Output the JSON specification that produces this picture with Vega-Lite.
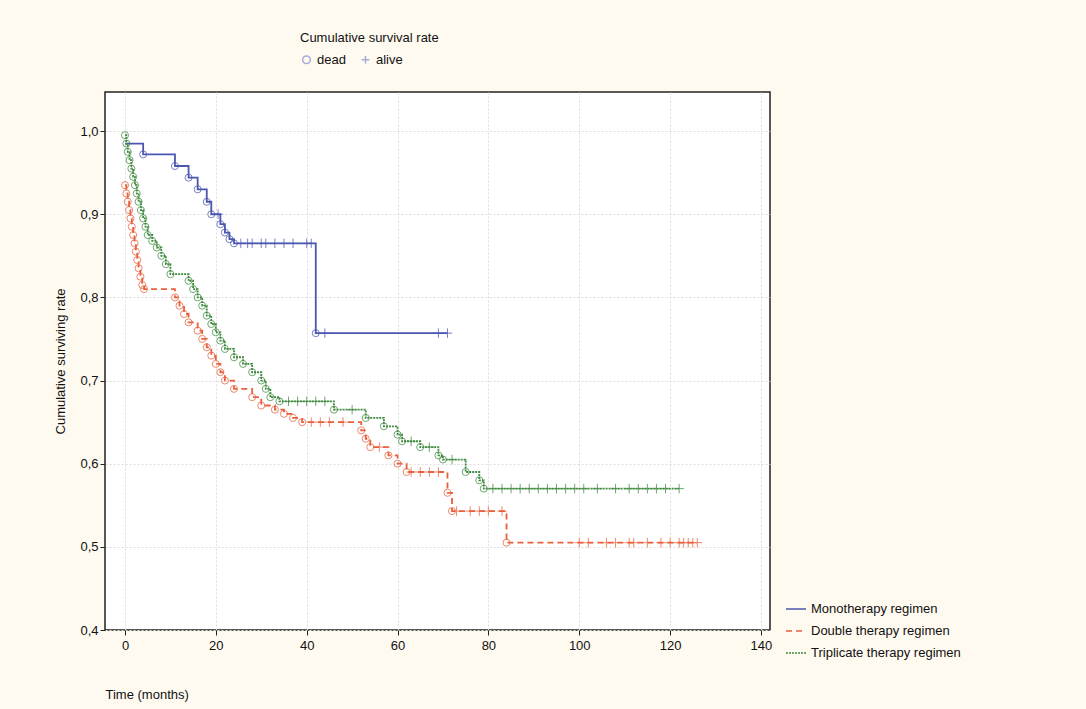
{
  "$schema": "https://vega.github.io/schema/vega-lite/v6.json",
  "width": 665,
  "height": 538,
  "autosize": "none",
  "padding": {"left": 105, "top": 92, "right": 316, "bottom": 79},
  "background": "#fffaf0",
  "config": {
    "font": "Liberation Sans",
    "view": {"fill": "white", "stroke": "#222", "strokeWidth": 1.5},
    "axis": {"labelFontSize": 13, "titleFontSize": 13, "titleFontWeight": "normal", "labelColor": "#111", "titleColor": "#111", "gridColor": "#ddd", "gridDash": [2, 2], "domain": false, "tickColor": "#222"}
  },
  "data": {
    "values": [
      {"g": "Monotherapy regimen", "t": 0, "s": 0.985, "e": "step"},
      {"g": "Monotherapy regimen", "t": 4, "s": 0.972, "e": "dead"},
      {"g": "Monotherapy regimen", "t": 11, "s": 0.958, "e": "dead"},
      {"g": "Monotherapy regimen", "t": 14, "s": 0.944, "e": "dead"},
      {"g": "Monotherapy regimen", "t": 16, "s": 0.93, "e": "dead"},
      {"g": "Monotherapy regimen", "t": 18, "s": 0.915, "e": "dead"},
      {"g": "Monotherapy regimen", "t": 19, "s": 0.9, "e": "dead"},
      {"g": "Monotherapy regimen", "t": 20.5, "s": 0.9, "e": "alive"},
      {"g": "Monotherapy regimen", "t": 21, "s": 0.888, "e": "dead"},
      {"g": "Monotherapy regimen", "t": 22, "s": 0.878, "e": "dead"},
      {"g": "Monotherapy regimen", "t": 23, "s": 0.87, "e": "dead"},
      {"g": "Monotherapy regimen", "t": 24, "s": 0.865, "e": "dead"},
      {"g": "Monotherapy regimen", "t": 25.5, "s": 0.865, "e": "alive"},
      {"g": "Monotherapy regimen", "t": 27, "s": 0.865, "e": "alive"},
      {"g": "Monotherapy regimen", "t": 28, "s": 0.865, "e": "alive"},
      {"g": "Monotherapy regimen", "t": 30, "s": 0.865, "e": "alive"},
      {"g": "Monotherapy regimen", "t": 31, "s": 0.865, "e": "alive"},
      {"g": "Monotherapy regimen", "t": 33, "s": 0.865, "e": "alive"},
      {"g": "Monotherapy regimen", "t": 35, "s": 0.865, "e": "alive"},
      {"g": "Monotherapy regimen", "t": 37, "s": 0.865, "e": "alive"},
      {"g": "Monotherapy regimen", "t": 40, "s": 0.865, "e": "alive"},
      {"g": "Monotherapy regimen", "t": 41, "s": 0.865, "e": "alive"},
      {"g": "Monotherapy regimen", "t": 42, "s": 0.757, "e": "dead"},
      {"g": "Monotherapy regimen", "t": 44, "s": 0.757, "e": "alive"},
      {"g": "Monotherapy regimen", "t": 69, "s": 0.757, "e": "alive"},
      {"g": "Monotherapy regimen", "t": 71, "s": 0.757, "e": "alive"},

      {"g": "Double therapy regimen", "t": 0, "s": 0.935, "e": "dead"},
      {"g": "Double therapy regimen", "t": 0.3, "s": 0.925, "e": "dead"},
      {"g": "Double therapy regimen", "t": 0.6, "s": 0.915, "e": "dead"},
      {"g": "Double therapy regimen", "t": 0.9, "s": 0.905, "e": "dead"},
      {"g": "Double therapy regimen", "t": 1.2, "s": 0.895, "e": "dead"},
      {"g": "Double therapy regimen", "t": 1.5, "s": 0.885, "e": "dead"},
      {"g": "Double therapy regimen", "t": 1.8, "s": 0.875, "e": "dead"},
      {"g": "Double therapy regimen", "t": 2.1, "s": 0.865, "e": "dead"},
      {"g": "Double therapy regimen", "t": 2.4, "s": 0.855, "e": "dead"},
      {"g": "Double therapy regimen", "t": 2.7, "s": 0.845, "e": "dead"},
      {"g": "Double therapy regimen", "t": 3, "s": 0.835, "e": "dead"},
      {"g": "Double therapy regimen", "t": 3.4, "s": 0.825, "e": "dead"},
      {"g": "Double therapy regimen", "t": 3.8, "s": 0.815, "e": "dead"},
      {"g": "Double therapy regimen", "t": 4.2, "s": 0.81, "e": "dead"},
      {"g": "Double therapy regimen", "t": 11, "s": 0.8, "e": "dead"},
      {"g": "Double therapy regimen", "t": 12, "s": 0.79, "e": "dead"},
      {"g": "Double therapy regimen", "t": 13, "s": 0.78, "e": "dead"},
      {"g": "Double therapy regimen", "t": 14, "s": 0.77, "e": "dead"},
      {"g": "Double therapy regimen", "t": 16, "s": 0.76, "e": "dead"},
      {"g": "Double therapy regimen", "t": 17, "s": 0.75, "e": "dead"},
      {"g": "Double therapy regimen", "t": 18, "s": 0.74, "e": "dead"},
      {"g": "Double therapy regimen", "t": 19, "s": 0.73, "e": "dead"},
      {"g": "Double therapy regimen", "t": 20, "s": 0.72, "e": "dead"},
      {"g": "Double therapy regimen", "t": 21, "s": 0.71, "e": "dead"},
      {"g": "Double therapy regimen", "t": 22, "s": 0.7, "e": "dead"},
      {"g": "Double therapy regimen", "t": 24, "s": 0.69, "e": "dead"},
      {"g": "Double therapy regimen", "t": 28, "s": 0.68, "e": "dead"},
      {"g": "Double therapy regimen", "t": 30, "s": 0.67, "e": "dead"},
      {"g": "Double therapy regimen", "t": 33, "s": 0.665, "e": "dead"},
      {"g": "Double therapy regimen", "t": 35, "s": 0.66, "e": "dead"},
      {"g": "Double therapy regimen", "t": 37, "s": 0.655, "e": "dead"},
      {"g": "Double therapy regimen", "t": 39, "s": 0.65, "e": "dead"},
      {"g": "Double therapy regimen", "t": 41, "s": 0.65, "e": "alive"},
      {"g": "Double therapy regimen", "t": 43, "s": 0.65, "e": "alive"},
      {"g": "Double therapy regimen", "t": 45, "s": 0.65, "e": "alive"},
      {"g": "Double therapy regimen", "t": 48, "s": 0.65, "e": "alive"},
      {"g": "Double therapy regimen", "t": 52, "s": 0.64, "e": "dead"},
      {"g": "Double therapy regimen", "t": 53, "s": 0.63, "e": "dead"},
      {"g": "Double therapy regimen", "t": 54, "s": 0.62, "e": "dead"},
      {"g": "Double therapy regimen", "t": 56, "s": 0.62, "e": "alive"},
      {"g": "Double therapy regimen", "t": 58, "s": 0.61, "e": "dead"},
      {"g": "Double therapy regimen", "t": 60, "s": 0.6, "e": "dead"},
      {"g": "Double therapy regimen", "t": 62, "s": 0.59, "e": "dead"},
      {"g": "Double therapy regimen", "t": 63, "s": 0.59, "e": "alive"},
      {"g": "Double therapy regimen", "t": 65, "s": 0.59, "e": "alive"},
      {"g": "Double therapy regimen", "t": 67, "s": 0.59, "e": "alive"},
      {"g": "Double therapy regimen", "t": 69, "s": 0.59, "e": "alive"},
      {"g": "Double therapy regimen", "t": 71, "s": 0.565, "e": "dead"},
      {"g": "Double therapy regimen", "t": 72, "s": 0.543, "e": "dead"},
      {"g": "Double therapy regimen", "t": 73, "s": 0.543, "e": "alive"},
      {"g": "Double therapy regimen", "t": 76, "s": 0.543, "e": "alive"},
      {"g": "Double therapy regimen", "t": 78, "s": 0.543, "e": "alive"},
      {"g": "Double therapy regimen", "t": 80, "s": 0.543, "e": "alive"},
      {"g": "Double therapy regimen", "t": 83, "s": 0.543, "e": "alive"},
      {"g": "Double therapy regimen", "t": 84, "s": 0.505, "e": "dead"},
      {"g": "Double therapy regimen", "t": 100, "s": 0.505, "e": "alive"},
      {"g": "Double therapy regimen", "t": 102, "s": 0.505, "e": "alive"},
      {"g": "Double therapy regimen", "t": 106, "s": 0.505, "e": "alive"},
      {"g": "Double therapy regimen", "t": 108, "s": 0.505, "e": "alive"},
      {"g": "Double therapy regimen", "t": 111, "s": 0.505, "e": "alive"},
      {"g": "Double therapy regimen", "t": 112, "s": 0.505, "e": "alive"},
      {"g": "Double therapy regimen", "t": 115, "s": 0.505, "e": "alive"},
      {"g": "Double therapy regimen", "t": 118, "s": 0.505, "e": "alive"},
      {"g": "Double therapy regimen", "t": 120, "s": 0.505, "e": "alive"},
      {"g": "Double therapy regimen", "t": 122, "s": 0.505, "e": "alive"},
      {"g": "Double therapy regimen", "t": 123, "s": 0.505, "e": "alive"},
      {"g": "Double therapy regimen", "t": 124, "s": 0.505, "e": "alive"},
      {"g": "Double therapy regimen", "t": 125, "s": 0.505, "e": "alive"},
      {"g": "Double therapy regimen", "t": 126, "s": 0.505, "e": "alive"},

      {"g": "Triplicate therapy regimen", "t": 0, "s": 0.995, "e": "dead"},
      {"g": "Triplicate therapy regimen", "t": 0.3, "s": 0.985, "e": "dead"},
      {"g": "Triplicate therapy regimen", "t": 0.6, "s": 0.975, "e": "dead"},
      {"g": "Triplicate therapy regimen", "t": 1, "s": 0.965, "e": "dead"},
      {"g": "Triplicate therapy regimen", "t": 1.4, "s": 0.955, "e": "dead"},
      {"g": "Triplicate therapy regimen", "t": 1.8, "s": 0.945, "e": "dead"},
      {"g": "Triplicate therapy regimen", "t": 2.2, "s": 0.935, "e": "dead"},
      {"g": "Triplicate therapy regimen", "t": 2.6, "s": 0.925, "e": "dead"},
      {"g": "Triplicate therapy regimen", "t": 3, "s": 0.915, "e": "dead"},
      {"g": "Triplicate therapy regimen", "t": 3.5, "s": 0.905, "e": "dead"},
      {"g": "Triplicate therapy regimen", "t": 4, "s": 0.895, "e": "dead"},
      {"g": "Triplicate therapy regimen", "t": 4.5, "s": 0.885, "e": "dead"},
      {"g": "Triplicate therapy regimen", "t": 5, "s": 0.875, "e": "dead"},
      {"g": "Triplicate therapy regimen", "t": 6, "s": 0.868, "e": "dead"},
      {"g": "Triplicate therapy regimen", "t": 7, "s": 0.86, "e": "dead"},
      {"g": "Triplicate therapy regimen", "t": 8, "s": 0.85, "e": "dead"},
      {"g": "Triplicate therapy regimen", "t": 9, "s": 0.84, "e": "dead"},
      {"g": "Triplicate therapy regimen", "t": 10, "s": 0.828, "e": "dead"},
      {"g": "Triplicate therapy regimen", "t": 14, "s": 0.82, "e": "dead"},
      {"g": "Triplicate therapy regimen", "t": 15, "s": 0.81, "e": "dead"},
      {"g": "Triplicate therapy regimen", "t": 16, "s": 0.8, "e": "dead"},
      {"g": "Triplicate therapy regimen", "t": 17, "s": 0.79, "e": "dead"},
      {"g": "Triplicate therapy regimen", "t": 18, "s": 0.778, "e": "dead"},
      {"g": "Triplicate therapy regimen", "t": 19, "s": 0.768, "e": "dead"},
      {"g": "Triplicate therapy regimen", "t": 20, "s": 0.758, "e": "dead"},
      {"g": "Triplicate therapy regimen", "t": 21, "s": 0.748, "e": "dead"},
      {"g": "Triplicate therapy regimen", "t": 22, "s": 0.738, "e": "dead"},
      {"g": "Triplicate therapy regimen", "t": 24, "s": 0.728, "e": "dead"},
      {"g": "Triplicate therapy regimen", "t": 26, "s": 0.72, "e": "dead"},
      {"g": "Triplicate therapy regimen", "t": 28, "s": 0.71, "e": "dead"},
      {"g": "Triplicate therapy regimen", "t": 30, "s": 0.7, "e": "dead"},
      {"g": "Triplicate therapy regimen", "t": 31, "s": 0.69, "e": "dead"},
      {"g": "Triplicate therapy regimen", "t": 32, "s": 0.68, "e": "dead"},
      {"g": "Triplicate therapy regimen", "t": 34, "s": 0.675, "e": "dead"},
      {"g": "Triplicate therapy regimen", "t": 36, "s": 0.675, "e": "alive"},
      {"g": "Triplicate therapy regimen", "t": 38, "s": 0.675, "e": "alive"},
      {"g": "Triplicate therapy regimen", "t": 40, "s": 0.675, "e": "alive"},
      {"g": "Triplicate therapy regimen", "t": 42, "s": 0.675, "e": "alive"},
      {"g": "Triplicate therapy regimen", "t": 44, "s": 0.675, "e": "alive"},
      {"g": "Triplicate therapy regimen", "t": 46, "s": 0.665, "e": "dead"},
      {"g": "Triplicate therapy regimen", "t": 50, "s": 0.665, "e": "alive"},
      {"g": "Triplicate therapy regimen", "t": 53, "s": 0.655, "e": "dead"},
      {"g": "Triplicate therapy regimen", "t": 57, "s": 0.645, "e": "dead"},
      {"g": "Triplicate therapy regimen", "t": 60, "s": 0.635, "e": "dead"},
      {"g": "Triplicate therapy regimen", "t": 61, "s": 0.627, "e": "dead"},
      {"g": "Triplicate therapy regimen", "t": 63, "s": 0.627, "e": "alive"},
      {"g": "Triplicate therapy regimen", "t": 65, "s": 0.62, "e": "dead"},
      {"g": "Triplicate therapy regimen", "t": 67, "s": 0.62, "e": "alive"},
      {"g": "Triplicate therapy regimen", "t": 69, "s": 0.61, "e": "dead"},
      {"g": "Triplicate therapy regimen", "t": 70, "s": 0.605, "e": "dead"},
      {"g": "Triplicate therapy regimen", "t": 72, "s": 0.605, "e": "alive"},
      {"g": "Triplicate therapy regimen", "t": 75, "s": 0.59, "e": "dead"},
      {"g": "Triplicate therapy regimen", "t": 78, "s": 0.58, "e": "dead"},
      {"g": "Triplicate therapy regimen", "t": 79, "s": 0.57, "e": "dead"},
      {"g": "Triplicate therapy regimen", "t": 81, "s": 0.57, "e": "alive"},
      {"g": "Triplicate therapy regimen", "t": 83, "s": 0.57, "e": "alive"},
      {"g": "Triplicate therapy regimen", "t": 85, "s": 0.57, "e": "alive"},
      {"g": "Triplicate therapy regimen", "t": 87, "s": 0.57, "e": "alive"},
      {"g": "Triplicate therapy regimen", "t": 89, "s": 0.57, "e": "alive"},
      {"g": "Triplicate therapy regimen", "t": 91, "s": 0.57, "e": "alive"},
      {"g": "Triplicate therapy regimen", "t": 93, "s": 0.57, "e": "alive"},
      {"g": "Triplicate therapy regimen", "t": 95, "s": 0.57, "e": "alive"},
      {"g": "Triplicate therapy regimen", "t": 97, "s": 0.57, "e": "alive"},
      {"g": "Triplicate therapy regimen", "t": 99, "s": 0.57, "e": "alive"},
      {"g": "Triplicate therapy regimen", "t": 101, "s": 0.57, "e": "alive"},
      {"g": "Triplicate therapy regimen", "t": 104, "s": 0.57, "e": "alive"},
      {"g": "Triplicate therapy regimen", "t": 108, "s": 0.57, "e": "alive"},
      {"g": "Triplicate therapy regimen", "t": 111, "s": 0.57, "e": "alive"},
      {"g": "Triplicate therapy regimen", "t": 113, "s": 0.57, "e": "alive"},
      {"g": "Triplicate therapy regimen", "t": 115, "s": 0.57, "e": "alive"},
      {"g": "Triplicate therapy regimen", "t": 117, "s": 0.57, "e": "alive"},
      {"g": "Triplicate therapy regimen", "t": 119, "s": 0.57, "e": "alive"},
      {"g": "Triplicate therapy regimen", "t": 122, "s": 0.57, "e": "alive"}
    ]
  },
  "encoding": {
    "x": {"field": "t", "type": "quantitative", "scale": {"domain": [-4.4, 142], "nice": false, "zero": false},
      "axis": {"values": [0, 20, 40, 60, 80, 100, 120, 140], "title": "Time (months)", "titleAnchor": "start", "titleX": 0, "titleY": 58, "labelPadding": 4}},
    "y": {"field": "s", "type": "quantitative", "scale": {"domain": [0.4, 1.047], "nice": false, "zero": false},
      "axis": {"values": [0.4, 0.5, 0.6, 0.7, 0.8, 0.9, 1.0], "format": ".1f", "labelExpr": "replace(datum.label, '.', ',')", "title": "Cumulative surviving rate", "titlePadding": 12}},
    "color": {"field": "g", "type": "nominal",
      "scale": {"domain": ["Monotherapy regimen", "Double therapy regimen", "Triplicate therapy regimen"], "range": ["#4a56b0", "#e8603c", "#3f8a3f"]},
      "legend": {"orient": "none", "legendX": 680, "legendY": 506, "title": null, "symbolType": "stroke", "symbolStrokeWidth": 2, "symbolSize": 400, "labelFontSize": 13, "rowPadding": 4, "labelColor": "#111"}}
  },
  "layer": [
    {
      "mark": {"type": "line", "interpolate": "step-after", "strokeWidth": 1.8},
      "encoding": {
        "strokeDash": {"field": "g", "type": "nominal",
          "scale": {"domain": ["Monotherapy regimen", "Double therapy regimen", "Triplicate therapy regimen"], "range": [[1, 0], [6, 4], [2, 1]]},
          "legend": null}
      }
    },
    {
      "transform": [{"filter": "datum.e != 'step'"}],
      "mark": {"type": "point", "filled": false, "strokeWidth": 1, "opacity": 0.75},
      "encoding": {
        "shape": {"field": "e", "type": "nominal",
          "scale": {"domain": ["dead", "alive"], "range": ["circle", "M0,-1L0,1M-1,0L1,0"]},
          "legend": {"orient": "none", "legendX": 195, "legendY": -60, "direction": "horizontal", "title": "Cumulative survival rate", "titleFontSize": 13, "titleFontWeight": "normal", "titlePadding": 8, "titleColor": "#111", "labelFontSize": 13, "labelColor": "#111", "symbolStrokeColor": "#8a8fd0", "symbolFillColor": "transparent", "symbolSize": 60, "columnPadding": 12}},
        "size": {"condition": {"test": "datum.e == 'alive'", "value": 90}, "value": 50}
      }
    }
  ]
}
